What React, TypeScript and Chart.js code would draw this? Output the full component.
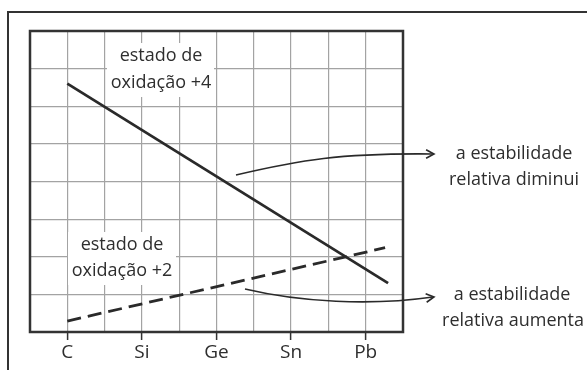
import React, { useEffect, useRef } from "react";
import { Chart, registerables } from "chart.js";

Chart.register(...registerables);

const categories = ["C", "Si", "Ge", "Sn", "Pb"];
const plus4X = [0, 4.3];
const plus4Y = [6.6, 1.3];
const plus2X = [0, 4.26];
const plus2Y = [0.29, 2.24];
const labelPlus4 = ["estado de", "oxidação +4"];
const labelPlus2 = ["estado de", "oxidação +2"];
const noteDown = ["a estabilidade", "relativa diminui"];
const noteUp = ["a estabilidade", "relativa aumenta"];

const FONT = "'Open Sans', sans-serif";
const INK = "#2a2a2a";

function arrowHead(ctx: CanvasRenderingContext2D, x: number, y: number, ang: number) {
  const l = 9;
  ctx.beginPath();
  ctx.moveTo(x - l * Math.cos(ang - 0.5), y - l * Math.sin(ang - 0.5));
  ctx.lineTo(x, y);
  ctx.lineTo(x - l * Math.cos(ang + 0.5), y - l * Math.sin(ang + 0.5));
  ctx.stroke();
}

const annotations = {
  id: "annotations",
  beforeDatasetsDraw(chart: any) {
    const ctx: CanvasRenderingContext2D = chart.ctx;
    ctx.save();
    ctx.fillStyle = "#ffffff";
    ctx.fillRect(107, 43, 107, 54);
    ctx.fillRect(68, 232, 108, 53);
    ctx.restore();
  },
  afterDraw(chart: any) {
    const ctx: CanvasRenderingContext2D = chart.ctx;
    const a = chart.chartArea;
    ctx.save();
    // outer frame
    ctx.strokeStyle = "#333";
    ctx.lineWidth = 2;
    ctx.beginPath();
    ctx.moveTo(8, 370);
    ctx.lineTo(8, 12);
    ctx.lineTo(587, 12);
    ctx.stroke();
    // plot box
    ctx.lineWidth = 2.5;
    ctx.strokeRect(a.left, a.top, a.right - a.left, a.bottom - a.top);

    // texts
    ctx.fillStyle = "#2e2e2e";
    ctx.font = `18px ${FONT}`;
    ctx.textAlign = "center";
    ctx.textBaseline = "middle";
    ctx.fillText(labelPlus4[0], 161, 56);
    ctx.fillText(labelPlus4[1], 161, 83);
    ctx.fillText(labelPlus2[0], 122, 245);
    ctx.fillText(labelPlus2[1], 122, 271);
    ctx.fillText(noteDown[0], 514, 154);
    ctx.fillText(noteDown[1], 514, 180);
    ctx.fillText(noteUp[0], 512, 295);
    ctx.fillText(noteUp[1], 513, 321);

    // arrows
    ctx.strokeStyle = INK;
    ctx.lineWidth = 1.6;
    ctx.beginPath();
    ctx.moveTo(236, 175);
    ctx.bezierCurveTo(300, 160, 340, 153, 433, 154);
    ctx.stroke();
    arrowHead(ctx, 434, 154, 0);
    ctx.beginPath();
    ctx.moveTo(245, 289);
    ctx.bezierCurveTo(300, 302, 370, 306, 433, 297);
    ctx.stroke();
    arrowHead(ctx, 434, 297, -0.12);
    ctx.restore();
  },
};

export default function App() {
  const ref = useRef<HTMLCanvasElement>(null);
  useEffect(() => {
    document.body.style.margin = "0";
    const chart = new Chart(ref.current!, {
      type: "scatter",
      data: {
        datasets: [
          {
            label: "+4",
            data: plus4X.map((x, i) => ({ x, y: plus4Y[i] })),
            showLine: true,
            borderColor: INK,
            borderWidth: 2.8,
            pointRadius: 0,
          },
          {
            label: "+2",
            data: plus2X.map((x, i) => ({ x, y: plus2Y[i] })),
            showLine: true,
            borderColor: INK,
            borderWidth: 2.8,
            borderDash: [14, 7],
            pointRadius: 0,
          },
        ],
      },
      options: {
        responsive: false,
        animation: false,
        layout: { padding: { left: 30, top: 31, right: 184, bottom: 0 } },
        plugins: { legend: { display: false }, tooltip: { enabled: false } },
        scales: {
          x: {
            type: "linear",
            min: -0.5,
            max: 4.5,
            afterBuildTicks: (s: any) => {
              const t = [];
              for (let v = -0.5; v <= 4.5001; v += 0.5) t.push({ value: Math.round(v * 10) / 10 });
              s.ticks = t;
            },
            afterFit: (s: any) => {
              s.height = 38;
            },
            ticks: {
              autoSkip: false,
              maxRotation: 0,
              padding: 1,
              color: "#2e2e2e",
              font: { family: FONT, size: 19 },
              callback: (v: any) => (Number.isInteger(v) ? categories[v] ?? "" : ""),
            },
            grid: {
              color: "#a3a3a3",
              lineWidth: 1.2,
              tickLength: 8,
              tickColor: (c: any) =>
                c.tick && Number.isInteger(c.tick.value) && c.tick.value >= 0 && c.tick.value <= 4
                  ? "#333"
                  : "rgba(0,0,0,0)",
              tickWidth: 1.5,
            },
            border: { display: false },
          },
          y: {
            min: 0,
            max: 8,
            ticks: { display: false, stepSize: 1 },
            grid: { drawTicks: false, color: "#a3a3a3", lineWidth: 1.2 },
            border: { display: false },
            afterFit: (s: any) => {
              s.width = 0;
            },
          },
        },
      },
      plugins: [annotations],
    });
    return () => chart.destroy();
  }, []);
  return <canvas ref={ref} width={587} height={370} style={{ display: "block" }} />;
}
